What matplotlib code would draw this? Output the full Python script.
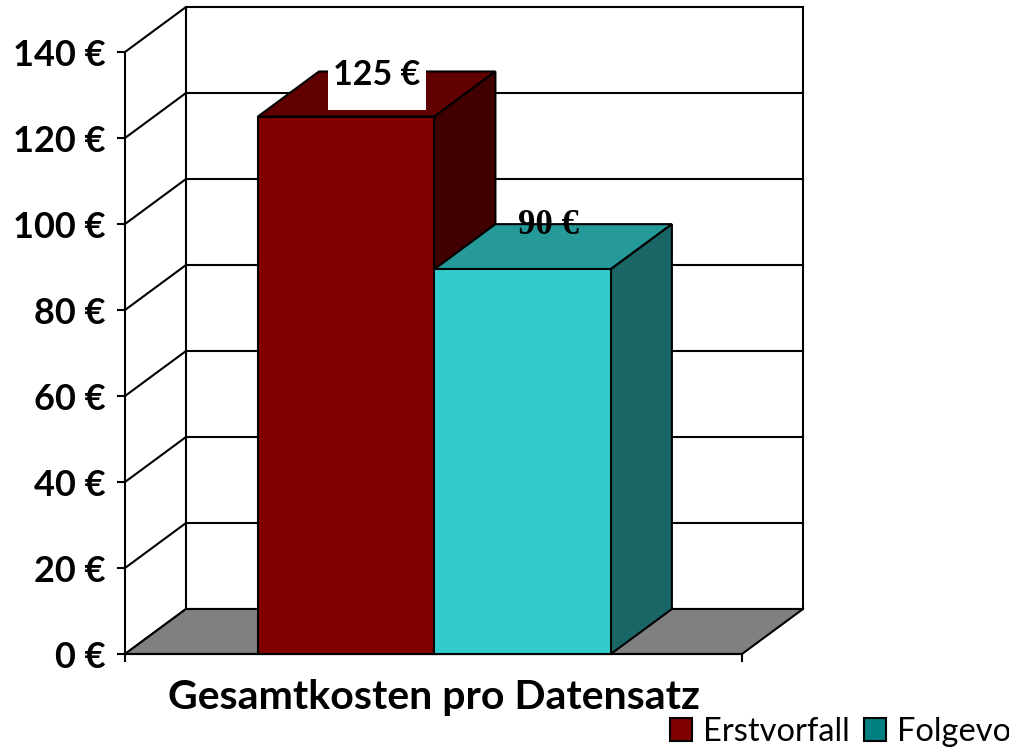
import matplotlib
matplotlib.use('Agg')
import matplotlib.pyplot as plt
from matplotlib.patches import Polygon, Rectangle, Patch

series = ['Erstvorfall', 'Folgevorfall']
values = [125, 89.5]
value_labels = ['125 €', '90 €']
category = 'Gesamtkosten pro Datensatz'
ticks = [0, 20, 40, 60, 80, 100, 120, 140]

front_colors = ['#800000', '#33cccc']
top_colors = ['#600000', '#269999']
side_colors = ['#400000', '#1a6666']
legend_colors = ['#800000', '#008080']

W, H = 1009, 750
plt.rcParams['font.family'] = 'Lato'

fig = plt.figure(figsize=(W / 100, H / 100), dpi=100)
ax = fig.add_axes([125 / W, (H - 654) / H, 617 / W, 602 / H])
ax.set_xlim(0, 1)
ax.set_ylim(0, 140)
ax.patch.set_visible(False)

# depth of the fake 3d box, in data units
dx = 61 / 617
dy = 45 * 140 / 602
lw = 1.5


def poly(pts, fc, z):
	ax.add_patch(Polygon(pts, closed=True, fc=fc, ec='black', lw=lw, zorder=z, clip_on=False, joinstyle='miter'))


# walls
for t in ticks:
	ax.plot([0, dx, 1 + dx], [t, t + dy, t + dy], color='black', lw=lw, zorder=1, clip_on=False)
ax.plot([dx, dx], [dy, 140 + dy], color='black', lw=lw, zorder=1, clip_on=False)
ax.plot([1 + dx, 1 + dx], [dy, 140 + dy], color='black', lw=lw, zorder=1, clip_on=False)
poly([(0, 0), (dx, dy), (1 + dx, dy), (1, 0)], '#808080', 2)

# bars
bar_w = 0.286
center = 0.5015
for i, v in enumerate(values):
	x0 = center - bar_w + i * bar_w
	x1 = x0 + bar_w
	z = 3 + i
	poly([(x0, v), (x0 + dx, v + dy), (x1 + dx, v + dy), (x1, v)], top_colors[i], z)
	poly([(x1, 0), (x1 + dx, dy), (x1 + dx, v + dy), (x1, v)], side_colors[i], z)
	poly([(x0, 0), (x0, v), (x1, v), (x1, 0)], front_colors[i], z)

# data labels
lx = center - bar_w / 2 + dx / 2
ax.add_patch(Rectangle((lx - 0.079, values[0] + dy - 9), 0.159, 12, fc='white', ec='none', zorder=5, clip_on=False))
ax.text(lx, values[0] + dy - 0.9, value_labels[0], ha='center', va='center', fontsize=24.5,
	fontweight='bold', zorder=6, clip_on=False)
lx2 = center + bar_w / 2 + dx / 2 - 0.007
ax.text(lx2, values[1] + dy - 0.4, value_labels[1], ha='center', va='center', fontsize=25,
	family='Liberation Serif', fontweight='bold', zorder=6, clip_on=False)

# axes
for s in ['top', 'right']:
	ax.spines[s].set_visible(False)
for s in ['left', 'bottom']:
	ax.spines[s].set_linewidth(lw)
ax.set_yticks(ticks)
ax.set_yticklabels([str(t) + ' €' for t in ticks], fontsize=26, fontweight='bold')
ax.set_xticks([0, 1])
ax.set_xticklabels(['', ''])
ax.tick_params(axis='both', length=5.8, width=lw)
ax.tick_params(axis='y', pad=8)
ax.set_xlabel(category, fontsize=29.5, fontweight='bold', labelpad=9)

handles = [Patch(fc=c, ec='black', lw=lw) for c in legend_colors]
fig.legend(handles, series, loc='lower left', bbox_to_anchor=(670 / W, 3 / H), ncol=2, frameon=False,
	fontsize=23.5, borderpad=0, borderaxespad=0, handlelength=0.675, handleheight=0.675,
	handletextpad=0.34, columnspacing=0.43)

fig.savefig('out.png', dpi=100)
